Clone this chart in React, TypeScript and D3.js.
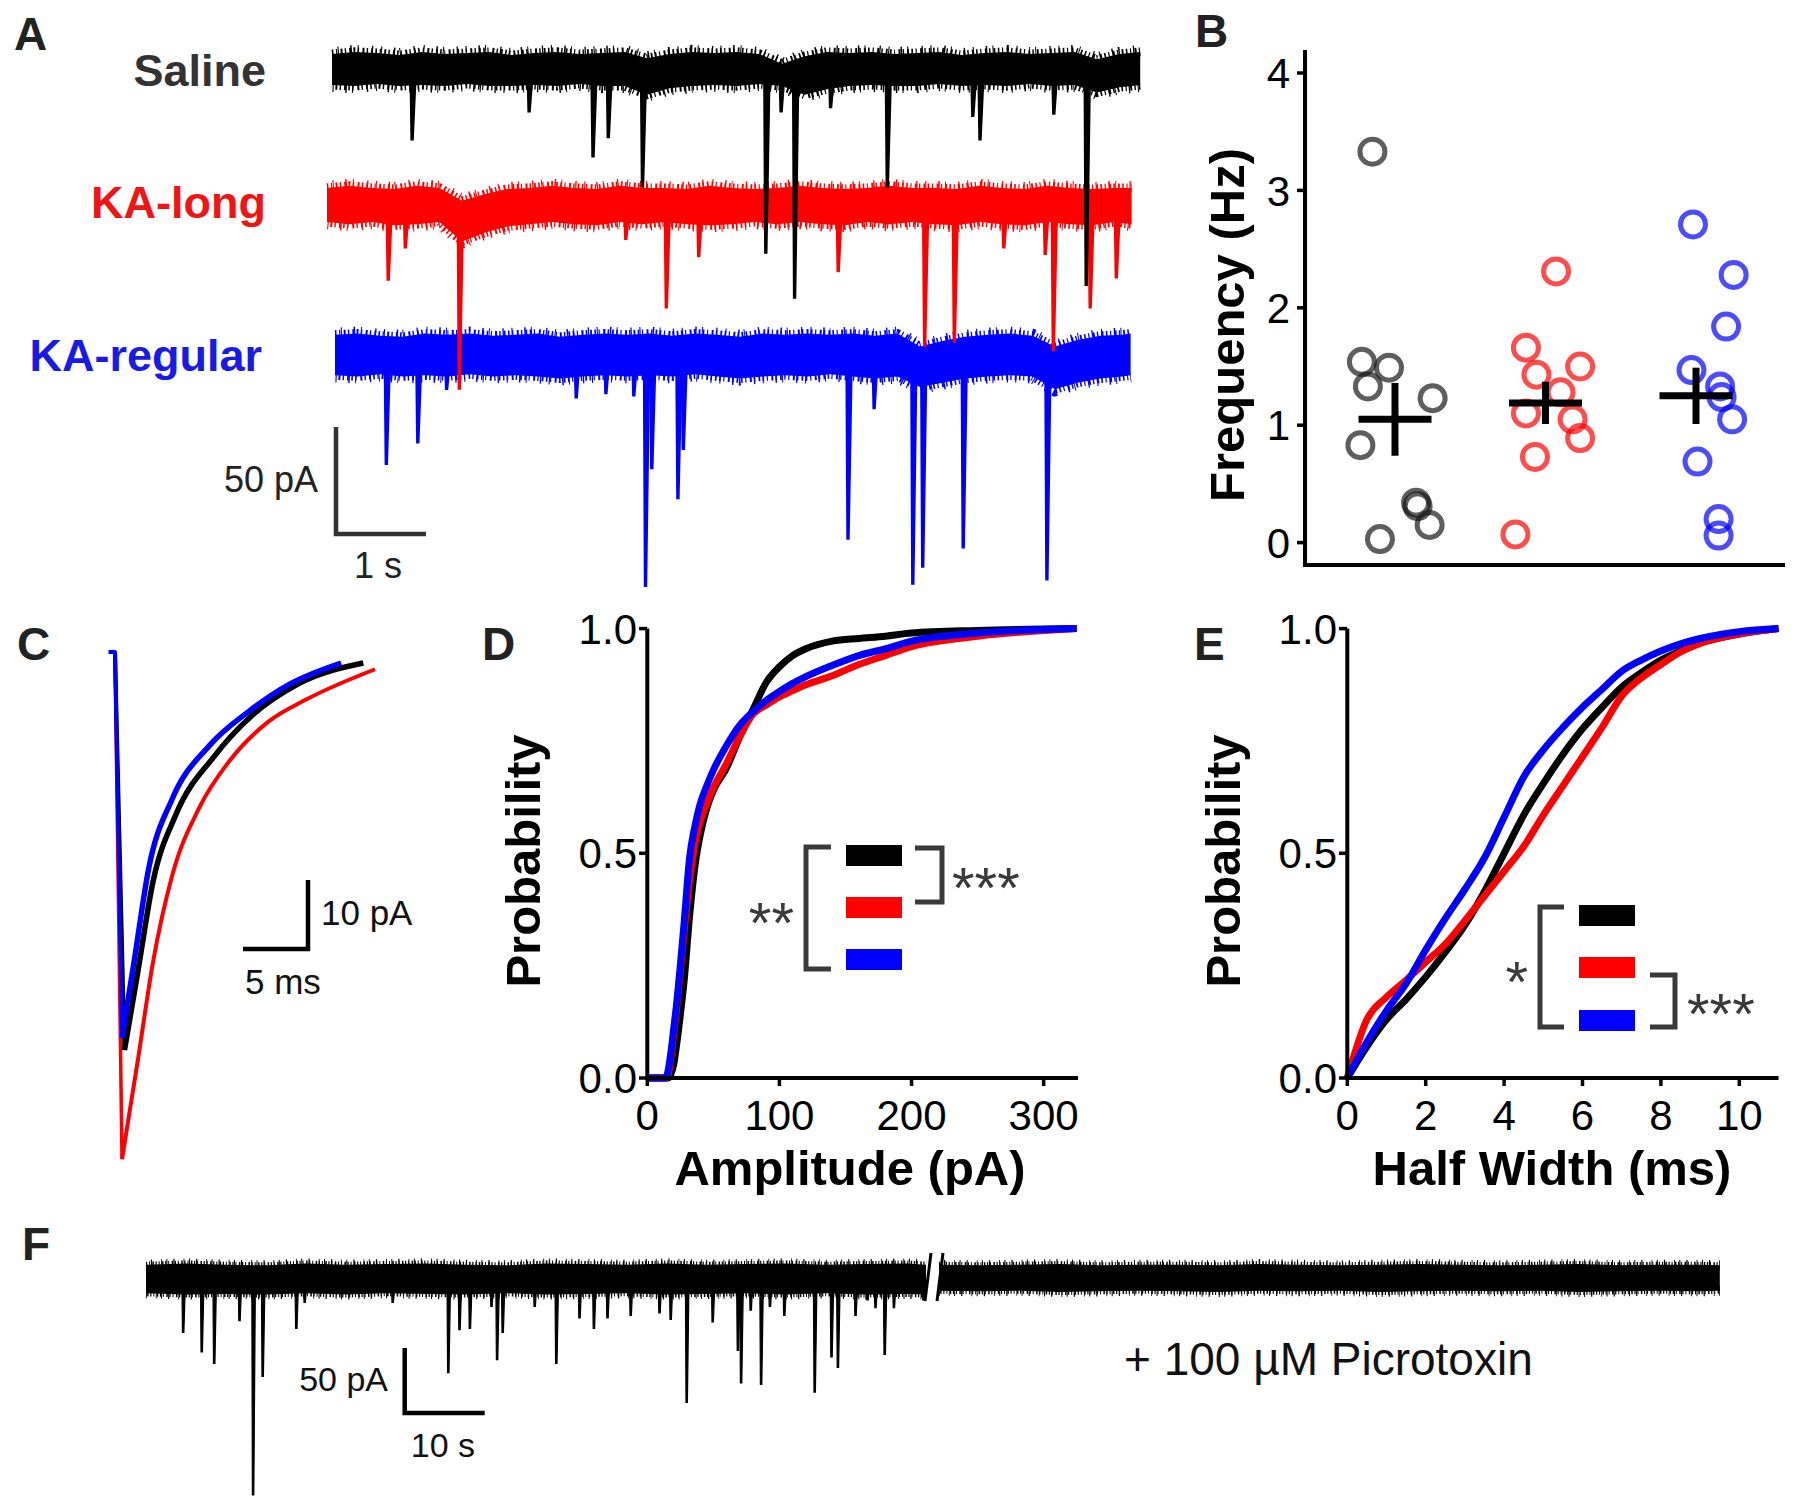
import React from "react";
import * as d3 from "d3";

const FONT = "'Liberation Sans', Arial, Helvetica, sans-serif";

// ---------------- Panel A data ----------------
const aNames = ["Saline", "KA-long", "KA-regular"];
const aDurations = [8.98, 8.94, 8.84]; // seconds shown
const aEnvStep = 0.25; // s between envelope readings
const salineTop = [7, 8, 7.5, 6.5, 8, 7, 7.5, 8, 6.5, 7.5, 8, 7, 7.5, 8, 5, 7, 8, 7.5, 8, 7, 2.5, 6, 8, 7.5, 8, 7, 7.5, 8, 6.5, 7.5, 8, 7, 7.5, 8, 4.5, 7, 8];
const salineBot = [-7.5, -8, -7, -8, -7.5, -8, -7, -8, -8, -7.5, -8, -7, -8, -8, -12, -9, -8, -7.5, -8, -7, -8, -12, -9.5, -8, -7.5, -8, -8, -7, -8, -7.5, -8, -7, -8, -7.5, -11, -8.5, -7.5];
const longTop = [8, 9, 8, 7.5, 9, 8, 2, 5, 7.5, 8, 9, 8, 7.5, 9, 8, 8, 7.5, 9, 8, 7.5, 8, 9, 8, 7.5, 8, 9, 8, 8, 7.5, 9, 8, 7.5, 9, 8, 7.5, 8, 8];
const longBot = [-8, -9, -8, -9.5, -9, -8, -17, -13, -10, -9, -8, -9, -9.5, -8, -9, -8, -9, -9.5, -9, -8, -9, -8, -9, -9.5, -8, -9, -8, -9, -9.5, -8, -9, -9.5, -8, -9, -9.5, -8, -9];
const regTop = [9.5, 10, 9, 8.5, 10, 9.5, 10, 9, 9.5, 10, 8.5, 9.5, 10, 9.5, 10, 9, 10, 9.5, 8.5, 10, 9.5, 10, 9.5, 10, 9, 10, 4, 6.5, 8.5, 9.5, 10, 9, 4, 7, 9, 9.5, 10];
const regBot = [-9.5, -10, -9, -10, -9.5, -10, -9, -10, -9.5, -10, -11, -10, -9.5, -10, -9.5, -10, -9, -10, -11, -10, -9.5, -10, -9, -10, -11, -10, -15, -13, -11, -10, -9.5, -10, -16, -13, -11, -10, -9.5];
// events: [time (s), amplitude (pA)]
const salineEvents: [number, number][] = [[0.88, 33], [2.18, 20], [2.89, 41], [3.06, 32], [3.44, 55], [4.81, 86], [4.98, 20], [5.13, 107], [5.53, 18], [6.16, 55], [7.11, 22], [7.19, 33], [8.01, 21], [8.37, 101]];
const longEvents: [number, number][] = [[0.67, 35], [0.86, 20], [1.46, 86], [3.31, 16], [3.76, 48], [4.12, 24], [5.67, 31], [6.63, 66], [6.96, 64], [7.51, 20], [7.97, 23], [8.06, 68], [8.47, 48], [8.76, 34]];
const regEvents: [number, number][] = [[0.56, 51], [0.91, 41], [1.23, 16], [2.67, 20], [3.0, 18], [3.31, 19], [3.44, 108], [3.51, 53], [3.8, 67], [3.86, 44], [5.69, 86], [5.98, 25], [6.41, 107], [6.52, 99], [6.97, 90], [7.9, 105]];

// ---------------- Panel B data ----------------
const bGroups = ["Saline", "KA-long", "KA-regular"];
const freqSaline = [3.33, 1.54, 1.49, 1.33, 1.23, 0.83, 0.34, 0.31, 0.15, 0.03];
const jitSaline = [-0.15, -0.22, -0.04, -0.18, 0.25, -0.23, 0.14, 0.15, 0.23, -0.1];
const freqLong = [2.31, 1.66, 1.43, 1.5, 1.28, 1.1, 1.05, 0.89, 0.73, 0.07];
const jitLong = [0.07, -0.13, -0.06, 0.23, 0.1, -0.13, 0.18, 0.23, -0.07, -0.2];
const freqReg = [2.71, 2.28, 1.84, 1.47, 1.33, 1.24, 1.05, 0.69, 0.2, 0.06];
const jitReg = [-0.02, 0.25, 0.2, -0.03, 0.16, 0.17, 0.24, 0.01, 0.15, 0.15];
const freqMean = [1.05, 1.19, 1.25];
const freqSem = [0.31, 0.18, 0.24];
const freqTicks = [0, 1, 2, 3, 4];

// ---------------- Panel C data (ms, pA) ----------------
const avgSalineT = [0, 0.73, 1.77, 2.9, 4.7, 7.6, 10.6, 14.1, 19.1];
const avgSalineI = [0, -57.7, -46.2, -33.5, -23.5, -15.2, -9.1, -4.6, -1.6];
const avgLongT = [0, 0.54, 1.77, 2.9, 4.4, 6.5, 8.8, 11.8, 14.7, 20];
const avgLongI = [0, -73.5, -59, -45.2, -32.4, -22.5, -15.8, -10.1, -6.9, -2.5];
const avgRegT = [-0.5, 0, 0.54, 1.46, 2.6, 4.4, 7.3, 10.3, 13.2, 17.4];
const avgRegI = [0, 0, -55.9, -45, -31.3, -21.3, -13.5, -8.6, -4.9, -1.6];

// ---------------- Panel D data ----------------
const ampGrid = [0, 14, 16, 18, 20, 22, 25, 28, 32, 36, 40, 45, 50, 60, 70, 80, 90, 100, 110, 120, 140, 160, 180, 200, 250, 325];
const ampSaline = [0, 0, 0, 0.01, 0.03, 0.07, 0.14, 0.22, 0.36, 0.47, 0.54, 0.6, 0.64, 0.69, 0.76, 0.82, 0.88, 0.915, 0.94, 0.955, 0.972, 0.978, 0.983, 0.99, 0.996, 1];
const ampLong = [0, 0, 0.01, 0.05, 0.1, 0.15, 0.24, 0.33, 0.44, 0.52, 0.57, 0.61, 0.645, 0.7, 0.76, 0.81, 0.83, 0.848, 0.862, 0.875, 0.895, 0.92, 0.94, 0.96, 0.983, 1];
const ampReg = [0, 0, 0.02, 0.06, 0.11, 0.16, 0.25, 0.35, 0.49, 0.56, 0.61, 0.65, 0.685, 0.74, 0.785, 0.815, 0.84, 0.86, 0.878, 0.893, 0.918, 0.94, 0.955, 0.972, 0.99, 1];
const ampTicks = [0, 100, 200, 300];

// ---------------- Panel E data ----------------
const hwGrid = [0, 0.5, 1, 1.5, 2, 2.5, 3, 3.5, 4, 4.5, 5, 5.5, 6, 6.5, 7, 7.5, 8, 8.5, 9, 10, 11];
const hwSaline = [0, 0.07, 0.13, 0.175, 0.225, 0.28, 0.34, 0.415, 0.5, 0.585, 0.655, 0.72, 0.777, 0.825, 0.87, 0.902, 0.93, 0.95, 0.968, 0.988, 1];
const hwLong = [0, 0.13, 0.18, 0.218, 0.258, 0.298, 0.35, 0.405, 0.46, 0.515, 0.585, 0.65, 0.715, 0.78, 0.85, 0.89, 0.92, 0.948, 0.967, 0.988, 1];
const hwReg = [0, 0.08, 0.15, 0.21, 0.285, 0.355, 0.42, 0.49, 0.58, 0.67, 0.73, 0.78, 0.825, 0.865, 0.905, 0.93, 0.95, 0.966, 0.978, 0.993, 1];
const hwTicks = [0, 2, 4, 6, 8, 10];
const probTicks = [0, 0.5, 1];

// ---------------- Panel F data ----------------
const fDurations = [97.5, 97.6]; // s, before / after picrotoxin
const fEnvStep = 5; // s
const fLeftTop = [11, 12, 11, 10.5, 12, 11, 11.5, 12, 11, 10.5, 12, 11.5, 11, 12, 11, 11.5, 12, 11, 11.5, 12, 11];
const fLeftBot = [-11, -12, -11.5, -12, -11, -12, -11, -11.5, -12, -11, -12, -11.5, -11, -12, -11.5, -11, -12, -11, -12, -11.5, -12];
const fRightTop = [11, 10.5, 11, 11.5, 10.5, 11, 11, 10.5, 11.5, 11, 10.5, 11, 11.5, 11, 10.5, 11, 11.5, 10.5, 11, 11, 10.5];
const fRightBot = [-9, -9.5, -9, -10, -9.5, -9, -9.5, -10, -9, -9.5, -9, -10, -9.5, -9, -9.5, -9, -10, -9.5, -9, -9.5, -9];
const fEvents: [number, number][] = [[4.56, 41], [6.88, 56], [8.44, 65], [11.6, 32], [13.3, 166], [14.5, 75], [18.7, 38], [19.75, 18], [30.75, 18], [37.7, 72], [39.1, 39], [40.4, 38], [43.1, 21], [43.8, 62], [44.5, 41], [48.5, 21], [51.2, 65], [54.1, 30], [55.9, 38], [57.6, 30], [60.5, 28], [64.1, 26], [65.5, 31], [67.5, 95], [70.75, 33], [73.9, 55], [74.3, 80], [75.5, 24], [76.8, 81], [77.9, 21], [79.7, 28], [83.5, 87], [85.6, 60], [86.4, 68], [88.6, 28], [90.1, 16], [91.1, 22], [92.25, 58], [93.4, 22], [97.1, 16]];

const COLORS = ["#000000", "#ff0000", "#0000ff"];
const LABEL_COLORS = ["#333333", "#f01414", "#1a1ae6"];
const PT_COLORS = ["#1a1a1a", "#ff0000", "#0000ff"];

type Fringe = { w: number; d: string; o: number };
type EnvPt = { t: number; top: number; bot: number };

function Trace(props: {
  x0: number; y0: number; xs: d3.ScaleLinear<number, number>; ys: d3.ScaleLinear<number, number>;
  dur: number; step: number; top: number[]; bot: number[]; events: [number, number][];
  color: string; fringe: Fringe[]; spike: [number, number, number]; spikeStroke: number;
}) {
  const { x0, y0, xs, ys, dur, step, top, bot, events, color, fringe, spike, spikeStroke } = props;
  const pts: EnvPt[] = top.map((v, i) => ({ t: Math.min(i * step, dur), top: v, bot: bot[i] }));
  const area = d3.area<EnvPt>().x(d => xs(d.t)).y0(d => ys(d.bot)).y1(d => ys(d.top));
  const lt = d3.line<EnvPt>().x(d => xs(d.t)).y(d => ys(d.top));
  const lb = d3.line<EnvPt>().x(d => xs(d.t)).y(d => ys(d.bot));
  const [w1, w2, w3] = spike;
  return (
    <g transform={`translate(${x0},${y0})`}>
      <path d={area(pts) || ""} fill={color} />
      {fringe.map((f, k) => (
        <g key={k}>
          <path d={lt(pts) || ""} fill="none" stroke={color} strokeWidth={f.w} strokeDasharray={f.d} strokeDashoffset={f.o} />
          <path d={lb(pts) || ""} fill="none" stroke={color} strokeWidth={f.w} strokeDasharray={f.d} strokeDashoffset={f.o + 5.3} />
        </g>
      ))}
      {events.map(([t, a], i) => {
        const x = xs(t);
        const yp = ys(-a);
        return (
          <path key={i} d={`M${x - w1},0L${x},${yp}L${x + w2},${yp}L${x + w3},0Z`} fill={color} stroke={color} strokeWidth={spikeStroke} strokeLinejoin="miter" />
        );
      })}
    </g>
  );
}

export default function App() {
  // ---- A scales ----
  const xsA = d3.scaleLinear().domain([0, 1]).range([0, 90]);
  const ysA = d3.scaleLinear().domain([0, 50]).range([0, -107]);
  const aX0 = [332, 327, 335];
  const aY0 = [69, 205, 355];
  const aTops = [salineTop, longTop, regTop];
  const aBots = [salineBot, longBot, regBot];
  const aEvents = [salineEvents, longEvents, regEvents];
  const aLabelRight = [266, 266, 262];
  const aLabelBase = [86, 218, 371];
  const fringeA: Fringe[] = [
    { w: 9, d: "1.6 2.6 1.2 3.4 2 2.2 1.4 3.1 1.8 2.4", o: 0 },
    { w: 14, d: "1.3 7.7 1.1 11.7 1.5 5.2 1 13.3", o: 3 },
  ];

  // ---- B scales ----
  const yB = d3.scaleLinear().domain([0, 4]).range([542.6, 73]);
  const xB = d3.scaleLinear().domain([0, 2]).range([1395, 1696]);
  const bFreqs = [freqSaline, freqLong, freqReg];
  const bJit = [jitSaline, jitLong, jitReg];

  // ---- C scales ----
  const xC = d3.scaleLinear().domain([0, 5]).range([115, 180]);
  const yC = d3.scaleLinear().domain([0, -10]).range([652, 721]);
  const cT = [avgLongT, avgSalineT, avgRegT];
  const cI = [avgLongI, avgSalineI, avgRegI];
  const cColors = [COLORS[1], COLORS[0], COLORS[2]];
  const cWidths = [4, 5.5, 5.5];

  // ---- D / E scales ----
  const yP = d3.scaleLinear().domain([0, 1]).range([1078, 628.6]);
  const xD = d3.scaleLinear().domain([0, 326]).range([647.3, 1078]);
  const xE = d3.scaleLinear().domain([0, 11]).range([1347.3, 1778.5]);
  const dSeries = [ampSaline, ampLong, ampReg];
  const eSeries = [hwSaline, hwLong, hwReg];

  // ---- F scales ----
  const xsF = d3.scaleLinear().domain([0, 10]).range([0, 80]);
  const ysF = d3.scaleLinear().domain([0, 50]).range([0, -65]);
  const fringeF: Fringe[] = [
    { w: 6, d: "1.2 1.9 1 2.4 1.5 1.6", o: 0 },
    { w: 10, d: "1 6 1.2 9 0.8 4.5", o: 2 },
  ];

  const fmt1 = d3.format(".1f");

  const cdfLine = (xs: d3.ScaleLinear<number, number>, grid: number[]) =>
    d3.line<number>().curve(d3.curveMonotoneX).x((_, i) => xs(grid[i])).y(d => yP(d));

  const panelLetter = (txt: string, x: number, y: number) => (
    <text x={x} y={y} fontFamily={FONT} fontWeight="bold" fontSize={46} fill="#222">{txt}</text>
  );

  // C paths
  const cPaths = cT.map((ts, k) => {
    const pts: [number, number][] = ts.map((t, i) => [t, cI[k][i]]);
    let imin = 0;
    pts.forEach((p, i) => { if (p[1] < pts[imin][1]) imin = i; });
    const drop = d3.line<[number, number]>().x(d => xC(d[0])).y(d => yC(d[1]))(pts.slice(0, imin + 1)) || "";
    const decay = d3.line<[number, number]>().curve(d3.curveMonotoneX).x(d => xC(d[0])).y(d => yC(d[1]))(pts.slice(imin)) || "";
    return { drop, decay };
  });

  const legend = (x: number, ys: number[], left: [number, number, number, number], right: [number, number, number, number], leftStars: string, rightStars: string, leftStarPos: [number, number], rightStarPos: [number, number]) => (
    <g>
      {ys.map((y, i) => <rect key={i} x={x} y={y} width={56} height={21} fill={COLORS[i]} />)}
      <path d={`M${left[0] + left[1]},${left[2]}H${left[0]}V${left[3]}H${left[0] + left[1]}`} fill="none" stroke="#3a3a3a" strokeWidth={5} />
      <path d={`M${right[0] - right[1]},${right[2]}H${right[0]}V${right[3]}H${right[0] - right[1]}`} fill="none" stroke="#3a3a3a" strokeWidth={5} />
      <text x={leftStarPos[0]} y={leftStarPos[1]} textAnchor="end" fontFamily={FONT} fontSize={58} fill="#3a3a3a">{leftStars}</text>
      <text x={rightStarPos[0]} y={rightStarPos[1]} textAnchor="start" fontFamily={FONT} fontSize={58} fill="#3a3a3a">{rightStars}</text>
    </g>
  );

  return (
    <svg width={1800} height={1508} viewBox="0 0 1800 1508" style={{ position: "absolute", left: 0, top: 0, background: "#fff" }}>
      <rect x={0} y={0} width={1800} height={1508} fill="#fff" />

      {/* ================= A ================= */}
      {panelLetter("A", 14, 50)}
      {aNames.map((n, i) => (
        <text key={n} x={aLabelRight[i]} y={aLabelBase[i]} textAnchor="end" fontFamily={FONT} fontWeight="bold" fontSize={45} fill={LABEL_COLORS[i]}>{n}</text>
      ))}
      {[2, 1, 0].map(i => (
        <Trace key={i} x0={aX0[i]} y0={aY0[i]} xs={xsA} ys={ysA} dur={aDurations[i]} step={aEnvStep}
          top={aTops[i]} bot={aBots[i]} events={aEvents[i]} color={COLORS[i]} fringe={fringeA} spike={[1, 1.8, 5]} spikeStroke={1.6} />
      ))}
      {/* scale bar A */}
      <path d={`M336,${534 + ysA(50)}V534H${336 + xsA(1)}`} fill="none" stroke="#333" strokeWidth={4.5} />
      <text x={318} y={492} textAnchor="end" fontFamily={FONT} fontSize={36} fill="#222">50 pA</text>
      <text x={378} y={578} textAnchor="middle" fontFamily={FONT} fontSize={36} fill="#222">1 s</text>

      {/* ================= B ================= */}
      {panelLetter("B", 1195, 47)}
      <path d={`M1305,50V565`} stroke="#000" strokeWidth={4} />
      <path d={`M1303,565H1785`} stroke="#000" strokeWidth={4} />
      {freqTicks.map(t => (
        <g key={t}>
          <path d={`M1297,${yB(t)}H1305`} stroke="#000" strokeWidth={3.5} />
          <text x={1290} y={yB(t)} dy="0.36em" textAnchor="end" fontFamily={FONT} fontSize={42} fill="#000">{t}</text>
        </g>
      ))}
      <text transform="translate(1244,325) rotate(-90)" textAnchor="middle" fontFamily={FONT} fontWeight="bold" fontSize={49} fill="#000">Frequency (Hz)</text>
      {bGroups.map((g, k) => (
        <g key={g}>
          {bFreqs[k].map((v, i) => (
            <circle key={i} cx={xB(k + bJit[k][i])} cy={yB(v)} r={12.5} fill="none" stroke={PT_COLORS[k]} strokeOpacity={0.7} strokeWidth={5} />
          ))}
        </g>
      ))}
      {bGroups.map((g, k) => (
        <g key={"m" + g}>
          <path d={`M${xB(k) - 36.5},${yB(freqMean[k])}H${xB(k) + 36.5}`} stroke="#000" strokeWidth={7} />
          <path d={`M${xB(k)},${yB(freqMean[k] + freqSem[k])}V${yB(freqMean[k] - freqSem[k])}`} stroke="#000" strokeWidth={7} />
        </g>
      ))}

      {/* ================= C ================= */}
      {panelLetter("C", 17, 660)}
      {cPaths.map((p, k) => (
        <g key={k}>
          <path d={p.drop} fill="none" stroke={cColors[k]} strokeWidth={k === 0 ? 3.5 : 4} strokeLinejoin="round" />
          <path d={p.decay} fill="none" stroke={cColors[k]} strokeWidth={cWidths[k]} strokeLinecap="butt" />
        </g>
      ))}
      <path d={`M${308 - (xC(5) - xC(0))},949H308V${949 - (yC(-10) - yC(0))}`} fill="none" stroke="#000" strokeWidth={4.5} />
      <text x={321} y={925} fontFamily={FONT} fontSize={35} fill="#111">10 pA</text>
      <text x={245} y={994} fontFamily={FONT} fontSize={35} fill="#111">5 ms</text>

      {/* ================= D ================= */}
      {panelLetter("D", 482, 660)}
      {dSeries.map((s, k) => (
        <path key={k} d={cdfLine(xD, ampGrid)(s) || ""} fill="none" stroke={COLORS[k]} strokeWidth={7} strokeLinejoin="round" />
      ))}
      <path d={`M647.3,${yP(1)}V1078H1078`} fill="none" stroke="#000" strokeWidth={4} />
      {probTicks.map(t => (
        <g key={t}>
          <path d={`M639,${yP(t)}H647`} stroke="#000" strokeWidth={3.5} />
          <text x={637} y={yP(t)} dy="0.36em" textAnchor="end" fontFamily={FONT} fontSize={42} fill="#000">{fmt1(t)}</text>
        </g>
      ))}
      {ampTicks.map(t => (
        <g key={t}>
          <path d={`M${xD(t)},1078V1086`} stroke="#000" strokeWidth={3.5} />
          <text x={xD(t)} y={1130} textAnchor="middle" fontFamily={FONT} fontSize={42} fill="#000">{t}</text>
        </g>
      ))}
      <text transform="translate(540,861) rotate(-90)" textAnchor="middle" fontFamily={FONT} fontWeight="bold" fontSize={49} fill="#000">Probability</text>
      <text x={850} y={1185} textAnchor="middle" fontFamily={FONT} fontWeight="bold" fontSize={49} fill="#000">Amplitude (pA)</text>
      {legend(846, [845, 897, 949], [806, 25, 847, 969], [942, 27, 848, 902], "**", "***", [794, 943], [952, 908])}

      {/* ================= E ================= */}
      {panelLetter("E", 1194, 660)}
      {eSeries.map((s, k) => (
        <path key={k} d={cdfLine(xE, hwGrid)(s) || ""} fill="none" stroke={COLORS[k]} strokeWidth={7} strokeLinejoin="round" />
      ))}
      <path d={`M1347.3,${yP(1)}V1078H1778.5`} fill="none" stroke="#000" strokeWidth={4} />
      {probTicks.map(t => (
        <g key={t}>
          <path d={`M1339,${yP(t)}H1347`} stroke="#000" strokeWidth={3.5} />
          <text x={1337} y={yP(t)} dy="0.36em" textAnchor="end" fontFamily={FONT} fontSize={42} fill="#000">{fmt1(t)}</text>
        </g>
      ))}
      {hwTicks.map(t => (
        <g key={t}>
          <path d={`M${xE(t)},1078V1086`} stroke="#000" strokeWidth={3.5} />
          <text x={xE(t)} y={1130} textAnchor="middle" fontFamily={FONT} fontSize={42} fill="#000">{t}</text>
        </g>
      ))}
      <text transform="translate(1240,861) rotate(-90)" textAnchor="middle" fontFamily={FONT} fontWeight="bold" fontSize={49} fill="#000">Probability</text>
      <text x={1552} y={1185} textAnchor="middle" fontFamily={FONT} fontWeight="bold" fontSize={49} fill="#000">Half Width (ms)</text>
      {legend(1579, [905, 957, 1010], [1540, 24, 907, 1027], [1675, 25, 975, 1027], "*", "***", [1528, 1002], [1687, 1034])}

      {/* ================= F ================= */}
      {panelLetter("F", 22, 1260)}
      <Trace x0={146} y0={1279} xs={xsF} ys={ysF} dur={fDurations[0]} step={fEnvStep} top={fLeftTop} bot={fLeftBot}
        events={fEvents} color="#000" fringe={fringeF} spike={[0.6, 1.4, 3]} spikeStroke={1.2} />
      <Trace x0={939} y0={1279} xs={xsF} ys={ysF} dur={fDurations[1]} step={fEnvStep} top={fRightTop} bot={fRightBot}
        events={[]} color="#000" fringe={fringeF} spike={[0.6, 1.4, 3]} spikeStroke={1.2} />
      <path d="M931,1253L925,1301" stroke="#000" strokeWidth={3} />
      <path d="M943,1253L937,1301" stroke="#000" strokeWidth={3} />
      <path d={`M404.7,${1413 + ysF(50)}V1413H${404.7 + xsF(10)}`} fill="none" stroke="#000" strokeWidth={4.5} />
      <text x={388} y={1391} textAnchor="end" fontFamily={FONT} fontSize={34} fill="#111">50 pA</text>
      <text x={443} y={1457} textAnchor="middle" fontFamily={FONT} fontSize={34} fill="#111">10 s</text>
      <text x={1124} y={1375} fontFamily={FONT} fontSize={46} fill="#111">+ 100 µM Picrotoxin</text>
    </svg>
  );
}
